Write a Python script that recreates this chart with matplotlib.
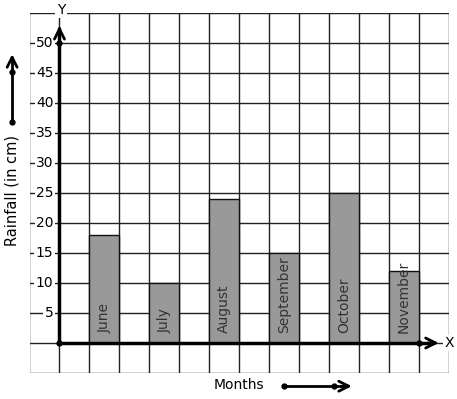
import numpy as np
import matplotlib
matplotlib.use("Agg")
import matplotlib.pyplot as plt

# data
months = ["June", "July", "August", "September", "October", "November"]
rainfall = [18, 10, 24, 15, 25, 12]
bar_x = [1, 3, 5, 7, 9, 11]
y_ticks = [5, 10, 15, 20, 25, 30, 35, 40, 45, 50]

fig = plt.figure(figsize=(4.57, 3.99), dpi=100)
ax = fig.add_axes([29.5/457, 26/399, 419.5/457, 360/399])
ax.set_xlim(-1, 13)
ax.set_ylim(-5, 55)

# grid
for gx in range(-1, 14):
    ax.axvline(gx, color="#222222", lw=1, zorder=1)
for gy in range(-5, 56, 5):
    ax.axhline(gy, color="#222222", lw=1, zorder=1)
for s in ax.spines.values():
    s.set_visible(False)
ax.set_xticks([])
ax.set_yticks([])

# bars
ax.bar(bar_x, rainfall, width=1, align="edge", color="#999999",
       edgecolor="#111111", lw=1, zorder=2)
for x, m in zip(bar_x, months):
    ax.text(x + 0.5, 1.6, m, rotation=90, ha="center", va="bottom",
            fontsize=10, color="#333333", zorder=3)

arrow = dict(arrowstyle="->", lw=2, color="k", mutation_scale=18)

# axes with arrows
ax.plot([0, 12.4], [0, 0], color="k", lw=2.5, zorder=4, solid_capstyle="butt")
ax.plot([0, 0], [0, 52.5], color="k", lw=2.5, zorder=4, solid_capstyle="butt")
ax.annotate("", xy=(12.75, 0), xytext=(12.2, 0), arrowprops=arrow, zorder=4)
ax.annotate("", xy=(0, 53.3), xytext=(0, 51.5), arrowprops=arrow, zorder=4)
ax.plot([0, 0, 12], [0, 50, 0], "o", color="k", ms=3.5, zorder=5)

# tick labels
for v in y_ticks:
    ax.text(-0.2, v, str(v), ha="right", va="center", fontsize=10, zorder=3,
            bbox=dict(boxstyle="square,pad=0.1", fc="white", ec="none"))
ax.text(13.0, 0, "X", ha="center", va="center", fontsize=10, clip_on=False, zorder=6,
        bbox=dict(boxstyle="square,pad=0.1", fc="white", ec="none"))
ax.text(0.05, 55.5, "Y", ha="center", va="center", fontsize=10, clip_on=False, zorder=6,
        bbox=dict(boxstyle="square,pad=0.1", fc="white", ec="none"))

# y label with arrow
ax.text(-1.6, 25.5, "Rainfall (in cm)", rotation=90, ha="center", va="center",
        fontsize=10.5, clip_on=False)
ax.plot([-1.58, -1.58], [36.8, 47.5], color="k", lw=2, clip_on=False)
ax.annotate("", xy=(-1.58, 48.6), xytext=(-1.58, 46.5), annotation_clip=False,
            arrowprops=arrow)
ax.plot([-1.58, -1.58], [36.8, 45.2], "o", color="k", ms=3.5, clip_on=False)

# x label with arrow
ax.text(5.98, -7.0, "Months", ha="center", va="center", fontsize=10, clip_on=False)
ax.plot([7.48, 9.5], [-7.2, -7.2], color="k", lw=2, clip_on=False)
ax.annotate("", xy=(9.85, -7.2), xytext=(9.3, -7.2), annotation_clip=False,
            arrowprops=arrow)
ax.plot([7.48, 9.15], [-7.2, -7.2], "o", color="k", ms=3.5, clip_on=False)

plt.savefig("out.png", dpi=100)
